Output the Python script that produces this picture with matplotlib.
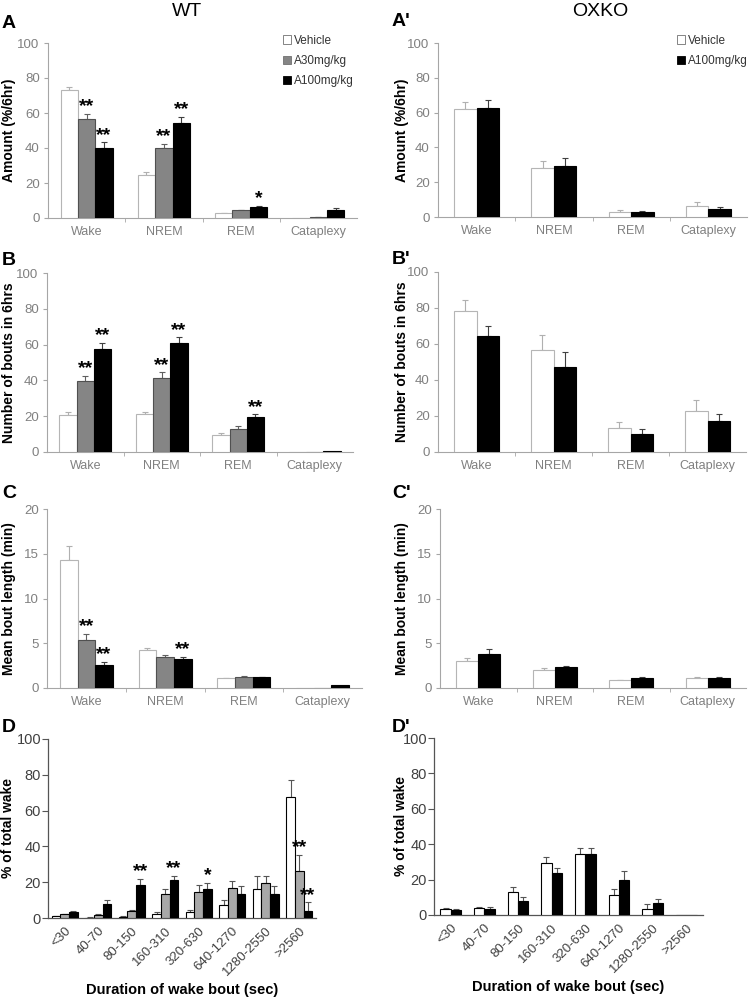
import numpy as np
import matplotlib.pyplot as plt
from matplotlib.patches import Patch

plt.rcParams['font.family'] = ['Liberation Sans', 'DejaVu Sans']

states = ['Wake', 'NREM', 'REM', 'Cataplexy']
bins = ['<30', '40-70', '80-150', '160-310', '320-630', '640-1270', '1280-2550', '>2560']

# A / A' : amount (%/6hr)
wt_amount_veh = [73.3, 24.8, 2.9, 0.0]
wt_amount_veh_err = [1.5, 1.7, 0.2, 0.0]
wt_amount_a30 = [56.8, 39.8, 4.4, 0.5]
wt_amount_a30_err = [2.8, 2.7, 0.4, 0.1]
wt_amount_a100 = [39.8, 54.5, 6.3, 4.4]
wt_amount_a100_err = [3.4, 3.4, 0.6, 1.5]
ko_amount_veh = [62.3, 28.1, 3.1, 6.2]
ko_amount_veh_err = [3.7, 4.0, 0.7, 2.5]
ko_amount_a100 = [62.5, 29.4, 2.9, 4.8]
ko_amount_a100_err = [4.6, 4.4, 0.7, 1.2]

# B / B' : number of bouts
wt_bouts_veh = [20.6, 21.1, 9.5, 0.0]
wt_bouts_veh_err = [1.5, 1.5, 1.0, 0.0]
wt_bouts_a30 = [39.8, 41.5, 12.7, 0.0]
wt_bouts_a30_err = [2.8, 3.0, 2.1, 0.0]
wt_bouts_a100 = [57.4, 60.7, 19.3, 0.3]
wt_bouts_a100_err = [3.7, 3.4, 1.8, 0.0]
ko_bouts_veh = [78.3, 56.9, 13.1, 23.0]
ko_bouts_veh_err = [6.3, 7.9, 3.6, 6.1]
ko_bouts_a100 = [64.3, 47.2, 10.2, 17.4]
ko_bouts_a100_err = [5.7, 8.5, 2.8, 3.9]

# C / C' : mean bout length (min)
wt_len_veh = [14.26, 4.2, 1.08, 0.0]
wt_len_veh_err = [1.64, 0.23, 0.03, 0.0]
wt_len_a30 = [5.4, 3.5, 1.19, 0.0]
wt_len_a30_err = [0.63, 0.19, 0.1, 0.0]
wt_len_a100 = [2.57, 3.28, 1.19, 0.3]
wt_len_a100_err = [0.33, 0.22, 0.08, 0.0]
ko_len_veh = [3.0, 2.0, 0.9, 1.12]
ko_len_veh_err = [0.35, 0.23, 0.03, 0.07]
ko_len_a100 = [3.84, 2.3, 1.08, 1.12]
ko_len_a100_err = [0.52, 0.16, 0.15, 0.07]

# D / D' : % of total wake by bout duration
wt_dist_veh = [1.1, 0.2, 0.7, 2.2, 3.2, 7.4, 16.0, 67.6]
wt_dist_veh_err = [0.1, 0.1, 0.4, 1.2, 1.1, 2.6, 7.3, 9.7]
wt_dist_a30 = [2.0, 1.7, 3.9, 13.6, 14.5, 16.9, 19.7, 26.1]
wt_dist_a30_err = [0.3, 0.3, 0.4, 2.4, 3.9, 3.8, 3.6, 9.3]
wt_dist_a100 = [3.5, 8.0, 18.4, 21.0, 16.2, 13.4, 13.4, 4.1]
wt_dist_a100_err = [0.4, 2.0, 3.4, 2.5, 3.5, 4.7, 4.5, 4.7]
ko_dist_veh = [3.2, 4.2, 13.0, 29.6, 34.3, 11.5, 3.6, 0.0]
ko_dist_veh_err = [0.6, 0.5, 3.0, 3.4, 3.8, 3.0, 2.4, 0.0]
ko_dist_a100 = [2.6, 3.4, 8.1, 23.6, 34.3, 20.0, 7.0, 0.0]
ko_dist_a100_err = [0.6, 0.9, 2.3, 3.2, 3.6, 4.9, 2.2, 0.0]

# significance marks: (series index, category index, text)
stars_a = [(1, 0, '**'), (2, 0, '**'), (1, 1, '**'), (2, 1, '**'), (2, 2, '*')]
stars_b = [(1, 0, '**'), (2, 0, '**'), (1, 1, '**'), (2, 1, '**'), (2, 2, '**')]
stars_c = [(1, 0, '**'), (2, 0, '**'), (2, 1, '**')]
stars_d = [(2, 2, '**'), (2, 3, '**'), (2, 4, '*'), (1, 7, '**'), (2, 7, '**')]

GRAY_AX = '#a6a6a6'
GRAY_TXT = '#808080'
W, H = 749, 1001


def bars(ax, series, errs, faces, edges, ecols, width, stars=()):
    n = len(series)
    x = np.arange(len(series[0]))
    tops = []
    for i, (vals, err) in enumerate(zip(series, errs)):
        pos = x + (i - (n - 1) / 2) * width
        ax.bar(pos, vals, width, color=faces[i], edgecolor=edges[i],
               linewidth=0.8, zorder=3)
        vals = np.array(vals)
        err = np.array(err)
        m = err > 0
        ax.errorbar(pos[m], vals[m], yerr=[np.zeros(m.sum()), err[m]],
                    fmt='none', ecolor=ecols[i], elinewidth=0.8,
                    capsize=2, capthick=0.8, zorder=2)
        tops.append((pos, vals + err))
    for si, ci, txt in stars:
        pos, top = tops[si]
        ax.annotate(txt, (pos[ci], top[ci]), xytext=(0, -1),
                    textcoords='offset points', ha='center', va='bottom',
                    fontsize=14, fontweight='bold', color='black')


def place_ylabel(ax, right_px):
    # put the right edge of the rotated y label at a given figure pixel
    pos = ax.get_position()
    ax.yaxis.set_label_coords((right_px / W - pos.x0) / pos.width, 0.5)


def style_top(ax, ymax, ylabel, right_px):
    ax.set_xlim(-0.5, 3.5)
    ax.set_ylim(0, ymax)
    ax.set_yticks(np.linspace(0, ymax, 5 if ymax == 20 else 6))
    ax.set_xticks(range(4))
    ax.set_xticklabels(states)
    ax.set_xticks([0.5, 1.5, 2.5], minor=True)
    for s in ['top', 'right']:
        ax.spines[s].set_visible(False)
    for s in ['left', 'bottom']:
        ax.spines[s].set_color(GRAY_AX)
        ax.spines[s].set_linewidth(0.8)
    ax.tick_params(axis='x', which='major', length=0, labelsize=9,
                   labelcolor=GRAY_TXT, pad=6)
    ax.tick_params(axis='x', which='minor', length=3, color=GRAY_AX)
    ax.tick_params(axis='y', length=3, color=GRAY_AX, labelsize=9.5,
                   labelcolor=GRAY_TXT, pad=3)
    ax.set_ylabel(ylabel, fontsize=10, fontweight='bold')
    place_ylabel(ax, right_px)


def style_dist(ax, ylabel, right_px):
    ax.set_xlim(-0.5, 7.5)
    ax.set_ylim(0, 100)
    ax.set_yticks(range(0, 101, 20))
    ax.set_xticks(range(8))
    ax.set_xticklabels(bins, rotation=45, ha='right', rotation_mode='anchor')
    for s in ['top', 'right']:
        ax.spines[s].set_visible(False)
    for s in ['left', 'bottom']:
        ax.spines[s].set_color('#555555')
        ax.spines[s].set_linewidth(0.9)
    ax.tick_params(axis='x', length=0, labelsize=9.5, labelcolor='#404040', pad=5)
    ax.tick_params(axis='y', length=4, color='#555555', labelsize=10.5,
                   labelcolor='#404040', pad=1)
    ax.set_ylabel(ylabel, fontsize=10, fontweight='bold')
    place_ylabel(ax, right_px)
    ax.set_xlabel('Duration of wake bout (sec)', fontsize=10.5,
                  fontweight='bold', labelpad=3)


fig = plt.figure(figsize=(7.49, 10.01), dpi=100)

def axes_px(left, right, top, bottom):
    return fig.add_axes([left / W, 1 - bottom / H, (right - left) / W, (bottom - top) / H])

ax_a = axes_px(48, 357, 43, 218)
ax_a2 = axes_px(438, 747, 43, 217)
ax_b = axes_px(47, 353, 273, 452)
ax_b2 = axes_px(438, 746, 272, 452)
ax_c = axes_px(47, 362, 509, 688)
ax_c2 = axes_px(440, 746, 509, 688)
ax_d = axes_px(48, 316, 739, 918)
ax_d2 = axes_px(434, 703, 738, 915)

faces3 = ['white', '#858585', 'black']
edges3 = ['#b5b5b5', '#505050', 'black']
ecols3 = ['#b0b0b0', '#606060', '#404040']
faces2 = ['white', 'black']
edges2 = ['#b5b5b5', 'black']
ecols2 = ['#b0b0b0', '#404040']

bars(ax_a, [wt_amount_veh, wt_amount_a30, wt_amount_a100],
     [wt_amount_veh_err, wt_amount_a30_err, wt_amount_a100_err],
     faces3, edges3, ecols3, 0.225, stars_a)
style_top(ax_a, 100, 'Amount (%/6hr)', 16)
bars(ax_a2, [ko_amount_veh, ko_amount_a100], [ko_amount_veh_err, ko_amount_a100_err],
     faces2, edges2, ecols2, 0.29)
style_top(ax_a2, 100, 'Amount (%/6hr)', 409)

bars(ax_b, [wt_bouts_veh, wt_bouts_a30, wt_bouts_a100],
     [wt_bouts_veh_err, wt_bouts_a30_err, wt_bouts_a100_err],
     faces3, edges3, ecols3, 0.225, stars_b)
style_top(ax_b, 100, 'Number of bouts in 6hrs', 16)
bars(ax_b2, [ko_bouts_veh, ko_bouts_a100], [ko_bouts_veh_err, ko_bouts_a100_err],
     faces2, edges2, ecols2, 0.29)
style_top(ax_b2, 100, 'Number of bouts in 6hrs', 409)

bars(ax_c, [wt_len_veh, wt_len_a30, wt_len_a100],
     [wt_len_veh_err, wt_len_a30_err, wt_len_a100_err],
     faces3, edges3, ecols3, 0.225, stars_c)
style_top(ax_c, 20, 'Mean bout length (min)', 16)
bars(ax_c2, [ko_len_veh, ko_len_a100], [ko_len_veh_err, ko_len_a100_err],
     faces2, edges2, ecols2, 0.29)
style_top(ax_c2, 20, 'Mean bout length (min)', 409)

bars(ax_d, [wt_dist_veh, wt_dist_a30, wt_dist_a100],
     [wt_dist_veh_err, wt_dist_a30_err, wt_dist_a100_err],
     ['white', '#a8a8a8', 'black'], ['black', 'black', 'black'],
     ['#555555', '#555555', '#555555'], 0.255, stars_d)
style_dist(ax_d, '% of total wake', 15)
bars(ax_d2, [ko_dist_veh, ko_dist_a100], [ko_dist_veh_err, ko_dist_a100_err],
     ['white', 'black'], ['black', 'black'], ['#555555', '#555555'], 0.31)
style_dist(ax_d2, '% of total wake', 408)

# legends
h3 = [Patch(facecolor=f, edgecolor=e, linewidth=0.6) for f, e in zip(faces3, ['#707070', '#707070', 'black'])]
ax_a.legend(h3, ['Vehicle', 'A30mg/kg', 'A100mg/kg'], loc='upper left',
            bbox_to_anchor=(278 / W, 1 - 30 / H), bbox_transform=fig.transFigure,
            frameon=False, fontsize=8.5, handlelength=0.7, handleheight=0.7,
            handletextpad=0.25, labelspacing=0.7, borderaxespad=0,
            labelcolor='#333333')
h2 = [Patch(facecolor=f, edgecolor=e, linewidth=0.6) for f, e in zip(faces2, ['#707070', 'black'])]
ax_a2.legend(h2, ['Vehicle', 'A100mg/kg'], loc='upper left',
             bbox_to_anchor=(672 / W, 1 - 30 / H), bbox_transform=fig.transFigure,
             frameon=False, fontsize=8.5, handlelength=0.7, handleheight=0.7,
             handletextpad=0.25, labelspacing=0.7, borderaxespad=0,
             labelcolor='#333333')

# column titles and panel letters
fig.text(187 / W, 1 - 11 / H, 'WT', ha='center', va='center', fontsize=14)
fig.text(600 / W, 1 - 11 / H, 'OXKO', ha='center', va='center', fontsize=14)
letters = [('A', 2, 24), ("A'", 392, 22), ('B', 2, 261), ("B'", 392, 260),
           ('C', 2, 494), ("C'", 392, 494), ('D', 2, 727), ("D'", 392, 727)]
for txt, x, y in letters:
    fig.text(x / W, 1 - y / H, txt, ha='left', va='center',
             fontsize=14, fontweight='bold')

plt.savefig('out.png', dpi=100)
